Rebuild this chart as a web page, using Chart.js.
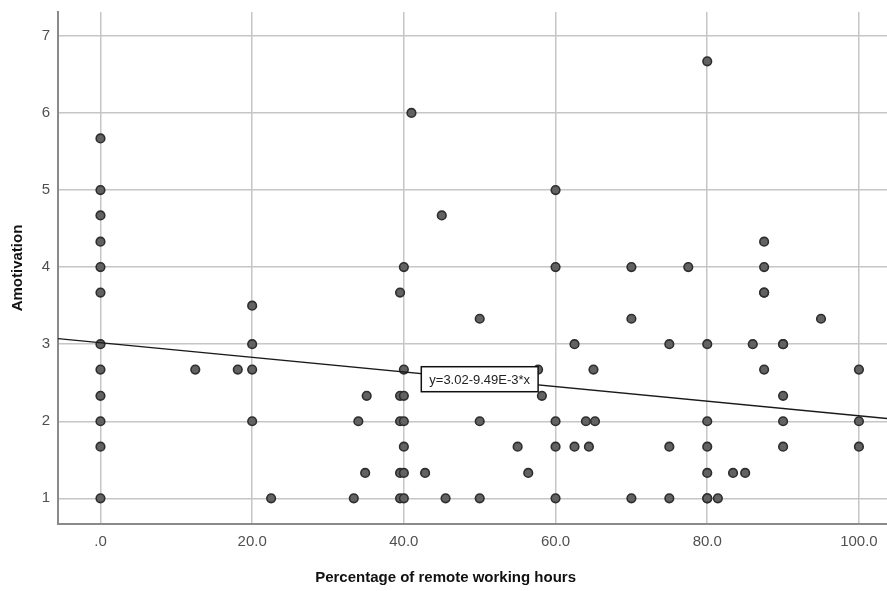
<!DOCTYPE html>
<html>
<head>
<meta charset="utf-8">
<script src="https://cdn.jsdelivr.net/npm/chart.js@4/dist/chart.umd.min.js"></script>
<style>
  html, body { margin: 0; padding: 0; background: #fff; }
  canvas { display: block; }
</style>
</head>
<body>
<canvas id="scatter" width="887" height="591"></canvas>
<script>
// percentage of remote working hours per respondent
const remoteHours = [
  0, 0, 0, 0, 0, 0, 0, 0, 0, 0, 0, 0,
  12.5, 18.1,
  20, 20, 20, 20, 22.5,
  33.4, 34, 34.9, 35.1,
  39.5, 39.5, 39.5, 39.5, 39.5,
  40, 40, 40, 40, 40, 40, 40,
  41, 42.8, 45, 45.5,
  50, 50, 50, 55, 56.4, 57.7, 58.2,
  60, 60, 60, 60, 60,
  62.5, 62.5, 64, 64.4, 65, 65.2,
  70, 70, 70, 75, 75, 75, 77.5,
  80, 80, 80, 80, 80, 80, 80, 81.4, 83.4, 85, 86,
  87.5, 87.5, 87.5, 87.5, 87.5,
  90, 90, 90, 90, 90, 95,
  100, 100, 100
];
// amotivation score for the same respondents
const amotivation = [
  5.67, 5, 4.67, 4.33, 4, 3.67, 3, 2.67, 2.33, 2, 1.67, 1,
  2.67, 2.67,
  3.5, 3, 2.67, 2, 1,
  1, 2, 1.33, 2.33,
  3.67, 2.33, 2, 1.33, 1,
  4, 2.67, 2.33, 2, 1.67, 1.33, 1,
  6, 1.33, 4.67, 1,
  3.33, 2, 1, 1.67, 1.33, 2.67, 2.33,
  5, 4, 2, 1.67, 1,
  3, 1.67, 2, 1.67, 2.67, 2,
  4, 3.33, 1, 3, 1.67, 1, 4,
  6.67, 3, 2, 1.67, 1.33, 1, 1, 1, 1.33, 1.33, 3,
  4.33, 4, 3.67, 3.67, 2.67,
  3, 3, 2.33, 2, 1.67, 3.33,
  2.67, 2, 1.67
];

const xTicks = [0, 20, 40, 60, 80, 100];
const yTicks = [1, 2, 3, 4, 5, 6, 7];

// linear fit shown on the chart
const fitIntercept = 3.02;
const fitSlope = -9.49e-3;
const fitLabel = 'y=3.02-9.49E-3*x';
const fitLabelAt = 50;

const X_MIN = -5.6, X_MAX = 103.7;
const Y_MIN = 0.667, Y_MAX = 7.31;

const fitY = x => fitIntercept + fitSlope * x;

const FONT = '"Liberation Sans", Arial, sans-serif';
const TICK = '#505050';
const GRID = '#c6c6c6';
const AXIS = '#8a8a8a';

// no extra room for edge tick labels, the plot runs to the canvas edge
const noPad = s => { s.paddingLeft = s.paddingRight = s.paddingTop = s.paddingBottom = 0; };

// equation box + x axis title
const annotate = {
  id: 'annotate',
  afterDatasetsDraw(chart) {
    const { ctx, scales: { x, y } } = chart;
    const cx = x.getPixelForValue(fitLabelAt);
    const cy = y.getPixelForValue(fitY(fitLabelAt));
    ctx.save();
    ctx.font = `13px ${FONT}`;
    const w = ctx.measureText(fitLabel).width + 16;
    const h = 25;
    ctx.fillStyle = '#fff';
    ctx.fillRect(cx - w / 2, cy - h / 2, w, h);
    ctx.strokeStyle = '#111';
    ctx.lineWidth = 1.5;
    ctx.strokeRect(cx - w / 2, cy - h / 2, w, h);
    ctx.fillStyle = '#222';
    ctx.textAlign = 'center';
    ctx.textBaseline = 'middle';
    ctx.fillText(fitLabel, cx, cy + 1);

    ctx.font = `bold 15px ${FONT}`;
    ctx.fillStyle = '#111';
    ctx.fillText('Percentage of remote working hours', x.getPixelForValue(45.5), 578);
    ctx.restore();
  }
};

new Chart(document.getElementById('scatter'), {
  type: 'scatter',
  data: {
    datasets: [
      {
        type: 'line',
        data: [{ x: X_MIN, y: fitY(X_MIN) }, { x: X_MAX, y: fitY(X_MAX) }],
        borderColor: '#1a1a1a',
        borderWidth: 1.3,
        pointRadius: 0,
        order: 0
      },
      {
        data: remoteHours.map((v, i) => ({ x: v, y: amotivation[i] })),
        backgroundColor: '#626262',
        borderColor: '#2e2e2e',
        borderWidth: 1.6,
        pointRadius: 4.3,
        order: 1
      }
    ]
  },
  options: {
    responsive: false,
    animation: false,
    devicePixelRatio: 1,
    layout: { autoPadding: false, padding: { top: 12, right: 0, bottom: 0, left: 0 } },
    plugins: { legend: { display: false }, tooltip: { enabled: false } },
    scales: {
      x: {
        type: 'linear',
        min: X_MIN, max: X_MAX,
        afterBuildTicks: s => { s.ticks = xTicks.map(v => ({ value: v })); },
        afterFit: s => { s.height = 67; noPad(s); },
        grid: { color: GRID, lineWidth: 1.5, drawTicks: false },
        border: { color: AXIS, width: 2 },
        ticks: {
          color: TICK, padding: 9, maxRotation: 0,
          font: { family: FONT, size: 15 },
          callback: v => v === 0 ? '.0' : v.toFixed(1)
        }
      },
      y: {
        min: Y_MIN, max: Y_MAX,
        afterBuildTicks: s => { s.ticks = yTicks.map(v => ({ value: v })); },
        afterFit: s => { s.width = 58; noPad(s); },
        grid: { color: GRID, lineWidth: 1.5, drawTicks: false },
        border: { color: AXIS, width: 2 },
        ticks: {
          color: TICK, padding: 8,
          font: { family: FONT, size: 15 }
        },
        title: {
          display: true, text: 'Amotivation', color: '#111',
          padding: { top: 9, bottom: 0 },
          font: { family: FONT, size: 15, weight: 'bold' }
        }
      }
    }
  },
  plugins: [annotate]
});
</script>
</body>
</html>
